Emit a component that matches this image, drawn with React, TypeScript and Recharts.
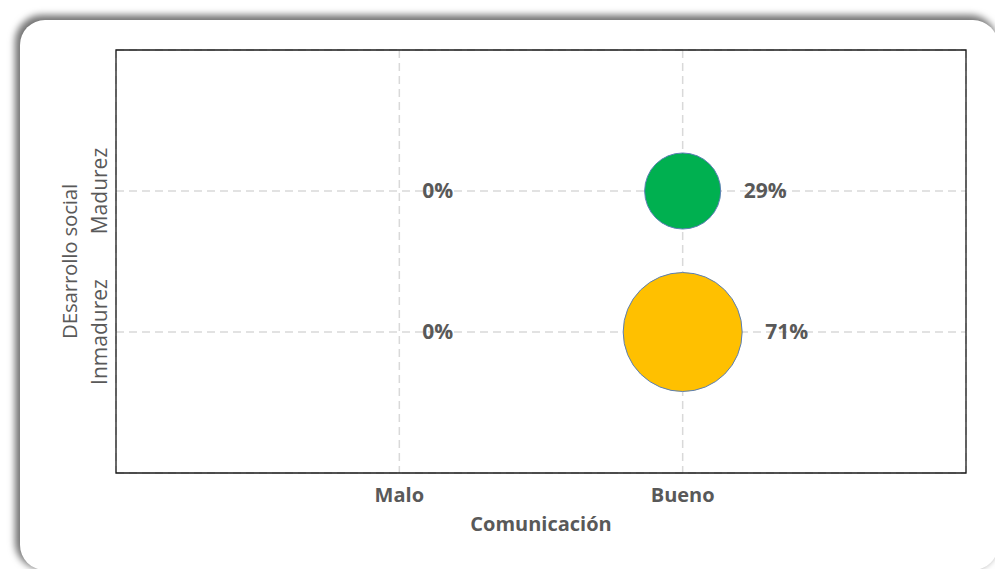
import React from 'react';
import {
  ScatterChart,
  Scatter,
  XAxis,
  YAxis,
  ZAxis,
  CartesianGrid,
  ReferenceArea,
  LabelList,
} from 'recharts';

// Categories
const xCategories = ['Malo', 'Bueno'];
const yCategories = ['Inmadurez', 'Madurez'];

// Series values (percent)
const madurezValues = [0, 29];
const inmadurezValues = [0, 71];

const xTitle = 'Comunicación';
const yTitle = 'DEsarrollo social';

const madurezData = xCategories.map((c, i) => ({ x: i + 1, y: 2, z: madurezValues[i] }));
const inmadurezData = xCategories.map((c, i) => ({ x: i + 1, y: 1, z: inmadurezValues[i] }));

const FONT = '"Open Sans", "Noto Sans", sans-serif';
const GRAY = '#595959';
const MAX_R = 59.5;

const XTick = (props: any) => {
  const { x, y, payload } = props;
  const label = xCategories[payload.value - 1] ?? '';
  return (
    <text x={x} y={y + 29} textAnchor="middle" fill={GRAY} fontFamily={FONT} fontWeight="bold" fontSize={20}>
      {label}
    </text>
  );
};

const YTick = (props: any) => {
  const { x, y, payload } = props;
  const label = yCategories[payload.value - 1] ?? '';
  const tx = x - 9;
  return (
    <text
      x={tx}
      y={y}
      textAnchor="middle"
      transform={`rotate(-90, ${tx}, ${y})`}
      fill={GRAY}
      fontFamily={FONT}
      fontWeight={500}
      fontSize={21}
    >
      {label}
    </text>
  );
};

export default function App() {
  return (
    <div style={{ position: 'absolute', left: 0, top: 0, width: 995, height: 569, overflow: 'hidden', background: '#fff' }}>
      <div
        style={{
          position: 'absolute',
          left: 20,
          top: 20,
          width: 978,
          height: 550,
          borderRadius: 25,
          background: '#fff',
          boxShadow: '-3px -3px 7px 2px rgba(0,0,0,0.55)',
        }}
      />
      <div style={{ position: 'absolute', left: 0, top: 0 }}>
        <ScatterChart width={995} height={569} margin={{ top: 50, right: 29, bottom: 0, left: 0 }}>
          <CartesianGrid stroke="#d9d9d9" strokeWidth={1.5} strokeDasharray="8 5" />
          <XAxis
            type="number"
            dataKey="x"
            domain={[0, 3]}
            ticks={[1, 2]}
            height={96}
            axisLine={false}
            tickLine={false}
            tickSize={0}
            tickMargin={0}
            tick={<XTick />}
            label={{
              content: (p: any) => {
                const vb = p.viewBox || { x: 116, y: 473, width: 850 };
                return (
                  <text
                    x={vb.x + vb.width / 2}
                    y={vb.y + 58}
                    textAnchor="middle"
                    fill={GRAY}
                    fontFamily={FONT}
                    fontWeight="bold"
                    fontSize={20}
                  >
                    {xTitle}
                  </text>
                );
              },
            }}
          />
          <YAxis
            type="number"
            dataKey="y"
            domain={[0, 3]}
            ticks={[1, 2]}
            width={116}
            axisLine={false}
            tickLine={false}
            tickSize={0}
            tickMargin={0}
            tick={<YTick />}
            label={{
              content: (p: any) => {
                const vb = p.viewBox || { x: 0, y: 50, height: 423 };
                const tx = vb.x + 77;
                const ty = vb.y + vb.height / 2;
                return (
                  <text
                    x={tx}
                    y={ty}
                    textAnchor="middle"
                    transform={`rotate(-90, ${tx}, ${ty})`}
                    fill={GRAY}
                    fontFamily={FONT}
                    fontWeight={500}
                    fontSize={20.5}
                    letterSpacing={-0.2}
                  >
                    {yTitle}
                  </text>
                );
              },
            }}
          />
          <ZAxis type="number" dataKey="z" domain={[0, 71]} range={[0, Math.PI * MAX_R * MAX_R]} />
          <ReferenceArea x1={0} x2={3} y1={0} y2={3} fill="none" fillOpacity={0} stroke="#1a1a1a" strokeWidth={1.3} ifOverflow="visible" />
          <Scatter
            name="Madurez"
            data={madurezData}
            fill="#00b050"
            stroke="#5b7fb5"
            strokeWidth={1}
            isAnimationActive={false}
          >
            <LabelList
              dataKey="z"
              position="right"
              offset={23}
              formatter={(v: any) => `${v}%`}
              fill={GRAY}
              fontFamily={FONT}
              fontWeight="bold"
              fontSize={21}
            />
          </Scatter>
          <Scatter
            name="Inmadurez"
            data={inmadurezData}
            fill="#ffc000"
            stroke="#5b7fb5"
            strokeWidth={1}
            isAnimationActive={false}
          >
            <LabelList
              dataKey="z"
              position="right"
              offset={23}
              formatter={(v: any) => `${v}%`}
              fill={GRAY}
              fontFamily={FONT}
              fontWeight="bold"
              fontSize={21}
            />
          </Scatter>
        </ScatterChart>
      </div>
    </div>
  );
}
